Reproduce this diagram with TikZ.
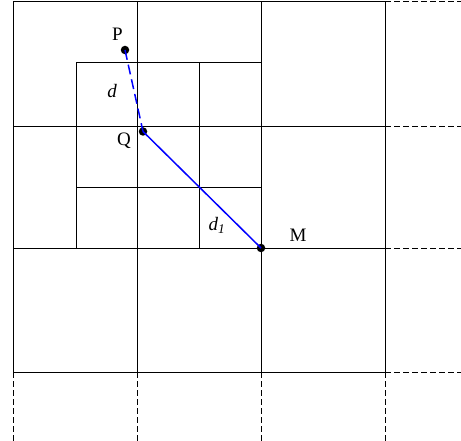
\documentclass[tikz,border=0pt]{standalone}
\usepackage{fontspec}
\setmainfont{Liberation Serif}
\begin{document}
\begin{tikzpicture}[x=1pt,y=-1pt,
  gridline/.style={black,line width=0.8pt},
  extline/.style={black,line width=0.7pt,dash pattern=on 6pt off 3pt},
  dot/.style={circle,fill=black,inner sep=0pt,minimum size=8.5pt},
  lbl/.style={inner sep=0pt,font=\fontsize{19}{22}\selectfont},
  dist/.style={blue,line width=1.5pt}]
\useasboundingbox (0,0) rectangle (461,441);
% main grid
\foreach \x in {13.5,137.5,261,385} \draw[gridline] (\x,1.3) -- (\x,372);
\foreach \y in {1.3,126.8,248,372} \draw[gridline] (13.5,\y) -- (385,\y);
% inner grid
\draw[gridline] (76,62.5) rectangle (261,248);
\draw[gridline] (199,62.5) -- (199,248);
\draw[gridline] (76,187) -- (261,187);
% dashed extensions
\foreach \y in {1.3,126.8,248,372} \draw[extline] (385,\y) -- (461,\y);
\foreach \x in {13.5,137.5,261,385} \draw[extline] (\x,372) -- (\x,441);
% points
\node[dot] (P) at (125,50) {};
\node[dot] (Q) at (143,131.5) {};
\node[dot] (M) at (261,248) {};
\draw[dist,dash pattern=on 10pt off 5pt] (P.center) -- (Q.center);
\draw[dist] (Q.center) -- (M.center);
% labels
\node[lbl] (lP) at (117.5,34) {P};
\node[lbl] (lQ) at (124,141) {Q};
\node[lbl] (lM) at (298,235) {M};
\node[lbl] (ld) at (112,91) {\itshape d};
\node[lbl] (ld1) at (217,225) {\itshape d\textsubscript{1}};
\end{tikzpicture}
\end{document}
